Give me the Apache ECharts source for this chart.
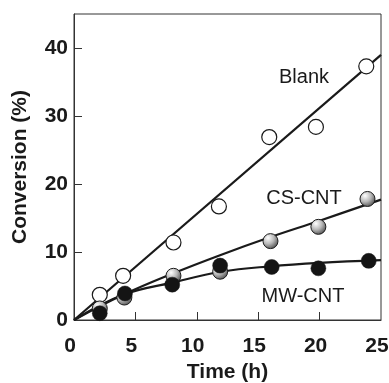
<!DOCTYPE html>
<html>
<head>
<meta charset="utf-8">
<script src="https://cdn.jsdelivr.net/npm/echarts@6/dist/echarts.min.js"></script>
<style>
html,body{margin:0;padding:0;background:#fff;}
#c{width:389px;height:383px;}
</style>
</head>
<body>
<div id="c"></div>
<script>
// Measured data points (Time h, Conversion %)
var blankPts = [[2.1,3.7],[4.0,6.5],[8.1,11.4],[11.8,16.7],[15.9,26.9],[19.7,28.4],[23.8,37.3]];
var csPts    = [[2.1,1.7],[4.1,3.3],[8.1,6.5],[11.9,7.1],[16.0,11.6],[19.9,13.7],[23.9,17.8]];
var mwPts    = [[2.1,1.0],[4.15,3.9],[8.0,5.2],[11.9,8.0],[16.1,7.8],[19.9,7.6],[24.0,8.7]];
// Fitted curves
var blankFit = [[0,0],[25,39.0]];
var csFit    = [[0,0],[4,3.7],[8,6.8],[12,9.6],[16,12.2],[20,14.6],[25,17.7]];
var mwFit    = [[0,0],[4,3.7],[8,5.5],[12,7.1],[16,7.9],[20,8.4],[25,8.8]];
var xTicks = [0,5,10,15,20,25];
var yTicks = [0,10,20,30,40];
var seriesLabels = ['Blank','CS-CNT','MW-CNT'];

var chart = echarts.init(document.getElementById('c'));
var font = 'Liberation Sans, Arial, Helvetica, sans-serif';
var lineStyle = {color:'#1a1a1a', width:2.2};
var option = {
  animation:false,
  grid:{left:74, right:8, top:14, bottom:63, show:true, borderColor:'#333', borderWidth:1, outerBoundsMode:'none', containLabel:false},
  xAxis:{
    type:'value', min:0, max:25,
    name:'Time (h)', nameLocation:'middle', nameGap:42,
    nameTextStyle:{fontFamily:font, fontWeight:'bold', fontSize:21, color:'#1a1a1a'},
    axisLine:{show:true, onZero:false, lineStyle:{color:'#333', width:1}},
    axisTick:{show:true, inside:true, length:8, lineStyle:{color:'#333'}, customValues:[5,10,15,20]},
    axisLabel:{fontFamily:font, fontWeight:'bold', fontSize:21, color:'#1a1a1a', margin:16, padding:[0,8,0,0], customValues:xTicks},
    splitLine:{show:false}
  },
  yAxis:{
    type:'value', min:0, max:45,
    name:'Conversion (%)', nameLocation:'middle', nameGap:43, nameRotate:90,
    nameTextStyle:{fontFamily:font, fontWeight:'bold', fontSize:21, color:'#1a1a1a'},
    axisLine:{show:true, onZero:false, lineStyle:{color:'#333', width:1}},
    axisTick:{show:true, inside:true, length:8, lineStyle:{color:'#333'}, customValues:[10,20,30,40]},
    axisLabel:{fontFamily:font, fontWeight:'bold', fontSize:21, color:'#1a1a1a', margin:6, customValues:yTicks},
    splitLine:{show:false}
  },
  series:[
    {type:'line', data:blankFit, symbol:'none', lineStyle:lineStyle, z:2},
    {type:'line', data:csFit, symbol:'none', smooth:0.4, lineStyle:lineStyle, z:2},
    {type:'line', data:mwFit, symbol:'none', smooth:0.4, lineStyle:lineStyle, z:2},
    {type:'scatter', data:blankPts, symbol:'circle', symbolSize:15, z:3,
      itemStyle:{color:'#fff', borderColor:'#1a1a1a', borderWidth:1.2, opacity:1}},
    {type:'scatter', data:csPts, symbol:'circle', symbolSize:15, z:4,
      itemStyle:{color:{type:'radial', x:0.35, y:0.3, r:0.75, colorStops:[{offset:0,color:'#ffffff'},{offset:0.5,color:'#b8b8b8'},{offset:1,color:'#4a4a4a'}]},
      borderColor:'#1a1a1a', borderWidth:1, opacity:1}},
    {type:'scatter', data:mwPts, symbol:'circle', symbolSize:15, z:5,
      itemStyle:{color:'#141414', borderColor:'#141414', borderWidth:0.5, opacity:1}}
  ],
  graphic:[
    {type:'text', x:304, y:77, style:{text:seriesLabels[0], fontFamily:font, fontSize:20, fill:'#1a1a1a', align:'center', verticalAlign:'middle'}},
    {type:'text', x:304, y:198, style:{text:seriesLabels[1], fontFamily:font, fontSize:20, fill:'#1a1a1a', align:'center', verticalAlign:'middle'}},
    {type:'text', x:303, y:296, style:{text:seriesLabels[2], fontFamily:font, fontSize:20, fill:'#1a1a1a', align:'center', verticalAlign:'middle'}}
  ]
};
chart.setOption(option);
</script>
</body>
</html>
